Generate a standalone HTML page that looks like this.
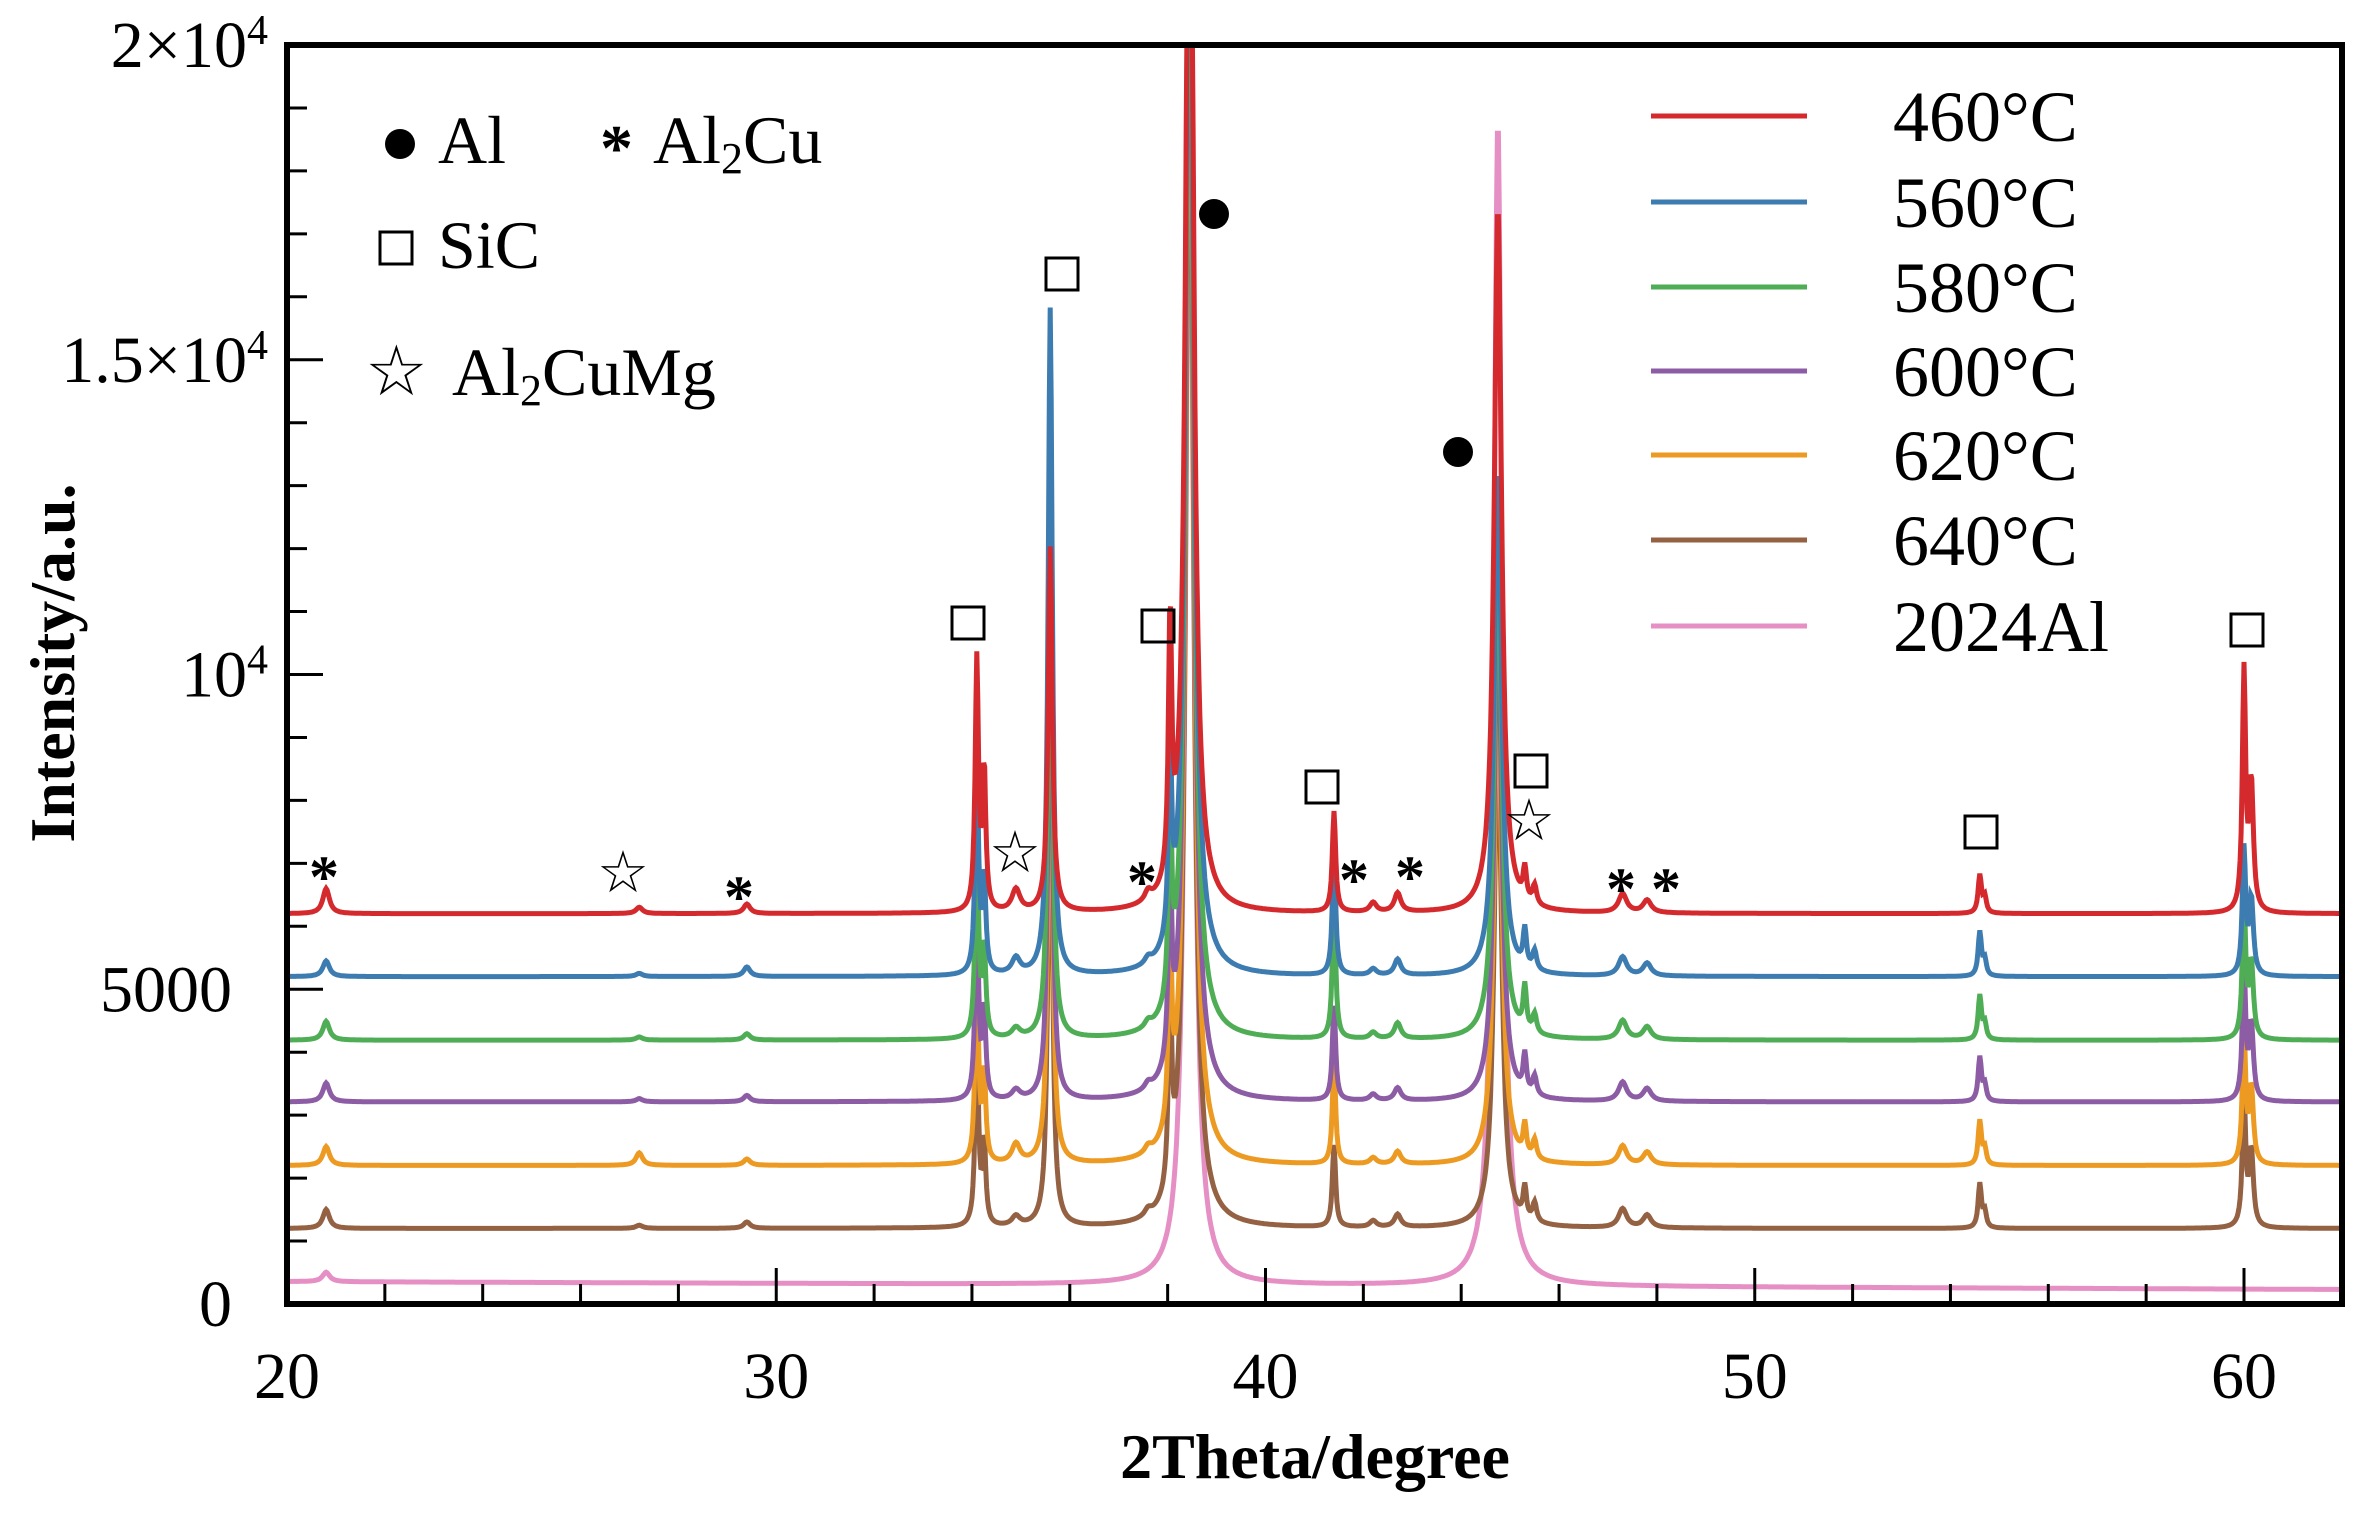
<!DOCTYPE html>
<html><head><meta charset="utf-8"><style>
html,body{margin:0;padding:0;background:#fff}
svg{display:block}
text{font-family:"Liberation Serif","DejaVu Serif",serif;fill:#000}
</style></head><body>
<svg id="chart" width="2362" height="1517" viewBox="0 0 2362 1517" xmlns="http://www.w3.org/2000/svg">
<defs><clipPath id="pc"><rect x="287" y="45" width="2055" height="1259"/></clipPath></defs>
<g id="series" clip-path="url(#pc)"></g>
<g id="axes"></g>
<g id="annot"></g>
</svg>
<script>
const seriesNames=["460°C","560°C","580°C","600°C","620°C","640°C","2024Al"];
const seriesColors=["#d42a2e","#3d7cb0","#4fae55","#8c5ca4","#ec9a22","#946143","#e58fc4"];
const baselines=[6200,5200,4190,3210,2200,1200,230];
const peakPos=[20.8,27.2,29.4,34.1,34.25,34.9,35.6,37.6,38.05,38.45,41.4,42.2,42.7,44.75,45.3,45.5,47.3,47.8,54.6,54.7,60.0,60.15];
const peakWidth=[0.08,0.08,0.08,0.04,0.04,0.1,0.05,0.08,0.04,0.09,0.04,0.08,0.08,0.09,0.04,0.05,0.1,0.1,0.04,0.04,0.04,0.05];
const h460=[400,100,150,4000,2200,350,5800,150,4100,20000,1600,150,300,11200,500,300,300,200,600,250,3800,2000];
const h560=[250,50,150,3500,1500,250,10600,100,3000,20000,2000,100,250,8000,600,300,300,200,700,250,2000,1200];
const h580=[300,50,100,3300,1400,150,9000,100,3200,20000,2200,100,250,8200,700,300,300,200,700,250,2200,1200];
const h600=[300,50,100,3200,1400,150,8500,100,3100,20000,1500,100,200,8000,600,300,300,200,700,250,2100,1200];
const h620=[300,200,100,3200,1400,300,8500,100,3100,20000,1600,100,200,8000,500,300,300,200,700,250,2100,1200];
const h640=[300,50,100,3100,1300,150,8400,100,3100,20000,1300,100,200,8000,500,300,300,200,700,250,2100,1200];
const h2024=[150,0,0,0,0,0,0,0,0,19000,0,0,0,18500,0,0,0,0,0,0,0,0];
const heights=[h460,h560,h580,h600,h620,h640,h2024];
const xTicks=[20,30,40,50,60];
const yTicks=[0,5000,10000,15000,20000];
const yTickLabels=["0","5000","10<tspan baseline-shift='super' font-size='42'>4</tspan>","1.5×10<tspan baseline-shift='super' font-size='42'>4</tspan>","2×10<tspan baseline-shift='super' font-size='42'>4</tspan>"];
const X=v=>287+(v-20)*48.925;
const Y=v=>1304-v*0.06295;
const NS="http://www.w3.org/2000/svg";
const sg=document.getElementById('series');
for(let s=seriesNames.length-1;s>=0;s--){
  let d="";
  for(let x=20;x<=62.001;x+=0.02){
    let v=baselines[s];
    if(s===6) v+= (62-x)*3;
    for(let i=0;i<peakPos.length;i++){const w=peakWidth[i]*(s===6?1.1:1);const u=(x-peakPos[i])/w;v+=heights[s][i]/(1+u*u);}
    d+=(d?"L":"M")+X(x).toFixed(1)+","+Math.max(Y(v),0).toFixed(1);
  }
  const p=document.createElementNS(NS,'path');
  p.setAttribute('d',d);p.setAttribute('fill','none');p.setAttribute('stroke',seriesColors[s]);p.setAttribute('stroke-width','5');
  
  
  sg.appendChild(p);
}
const ax=document.getElementById('axes');
let h='<rect x="287" y="45" width="2055" height="1259" fill="none" stroke="#000" stroke-width="6"/>';
for(let t=20;t<=62;t+=2){const big=t%10===0;h+=`<line x1="${X(t)}" x2="${X(t)}" y1="1304" y2="${1304-(big?36:20)}" stroke="#000" stroke-width="3"/>`;}
for(let v=0;v<=20000;v+=1000){const big=v%5000===0;h+=`<line x1="287" x2="${287+(big?36:20)}" y1="${Y(v)}" y2="${Y(v)}" stroke="#000" stroke-width="3"/>`;}
xTicks.forEach(t=>{h+=`<text x="${X(t)}" y="1398" font-size="66" text-anchor="middle">${t}</text>`;});
yTicks.forEach((v,i)=>{h+=`<text x="${i<2?232:268}" y="${Y(v)+22}" font-size="66" text-anchor="end">${yTickLabels[i]}</text>`;});
h+='<text x="1315" y="1478" font-size="64" font-weight="bold" text-anchor="middle">2Theta/degree</text>';
h+='<text transform="translate(74,663) rotate(-90)" font-size="64" font-weight="bold" text-anchor="middle">Intensity/a.u.</text>';
const ly=[116,202,287,371,455,540,626];
seriesNames.forEach((n,i)=>{h+=`<g><line x1="1651" x2="1807" y1="${ly[i]}" y2="${ly[i]}" stroke="${seriesColors[i]}" stroke-width="5"/><text x="1893" y="${ly[i]+25}" font-size="72">${n}</text></g>`;});
ax.innerHTML=h;
const an=document.getElementById('annot');
let a='<g>';
a+='<circle cx="400" cy="144" r="15" fill="#000"/><text x="438" y="163" font-size="68">Al</text>';
a+='<text x="600" y="170" font-size="66" font-weight="bold">*</text><text x="653" y="163" font-size="68">Al<tspan font-size="44" dy="10">2</tspan><tspan dy="-10">Cu</tspan></text>';
a+='<rect x="380" y="232" width="32" height="32" fill="none" stroke="#000" stroke-width="3"/><text x="438" y="268" font-size="68">SiC</text>';
a+='<text x="365" y="395" font-size="70">☆</text><text x="452" y="395" font-size="68">Al<tspan font-size="44" dy="10">2</tspan><tspan dy="-10">CuMg</tspan></text></g>';
const sq=[[968,623],[1062,274],[1158,626],[1322,787],[1531,771],[1981,832],[2247,630]];
sq.forEach(p=>{a+=`<rect x="${p[0]-16}" y="${p[1]-16}" width="32" height="32" fill="none" stroke="#000" stroke-width="3"/>`;});
const st=[[623,872],[1015,852],[1529,820]];
st.forEach(p=>{a+=`<text x="${p[0]}" y="${p[1]+20}" font-size="58" text-anchor="middle">☆</text>`;});
const as=[[324,867],[739,887],[1142,872],[1354,870],[1410,867],[1621,879],[1666,879]];
as.forEach(p=>{a+=`<text x="${p[0]}" y="${p[1]+30}" font-size="60" font-weight="bold" text-anchor="middle">*</text>`;});
[[1214,214],[1458,452]].forEach(p=>{a+=`<circle cx="${p[0]}" cy="${p[1]}" r="15" fill="#000"/>`;});
an.innerHTML=a;
</script>
</body></html>
